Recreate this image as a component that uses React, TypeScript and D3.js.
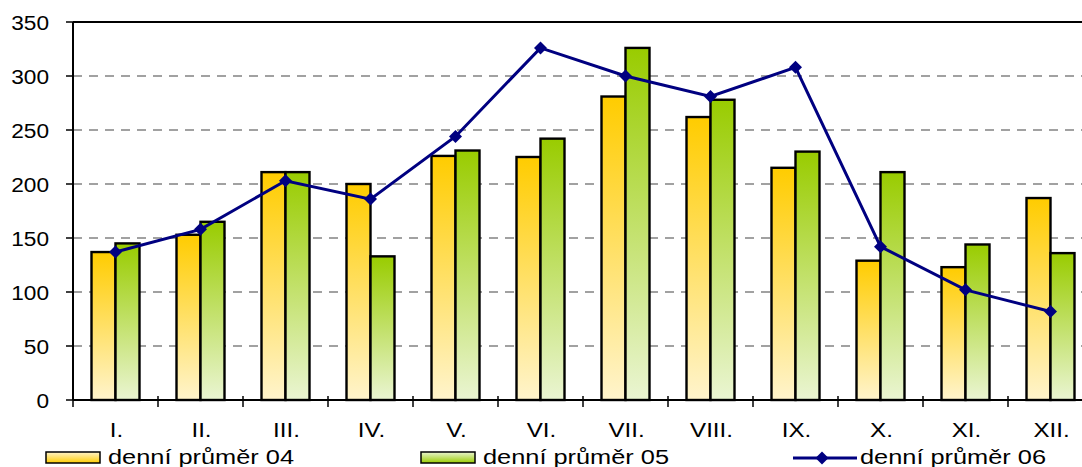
import React from "react";
import * as d3 from "d3";

const months = ["I.", "II.", "III.", "IV.", "V.", "VI.", "VII.", "VIII.", "IX.", "X.", "XI.", "XII."];
const avg04 = [137, 153, 211, 200, 226, 225, 281, 262, 215, 129, 123, 187];
const avg05 = [145, 165, 211, 133, 231, 242, 326, 278, 230, 211, 144, 136];
const avg06 = [137, 158, 203, 186, 244, 326, 300, 281, 308, 142, 102, 82];
const yTicks = [0, 50, 100, 150, 200, 250, 300, 350];
const seriesNames = ["denní průměr 04", "denní průměr 05", "denní průměr 06"];

const W = 1082, H = 467;
const left = 73, top = 22, bottom = 400, right = 1093;
const font = "'Liberation Sans', Arial, sans-serif";

export default function App() {
  const x = d3.scaleBand<string>().domain(months).range([left, right]).padding(0);
  const y = d3.scaleLinear().domain([0, 350]).range([bottom, top]);
  const bw = 24;
  const line = d3.line<number>()
    .x((_, i) => (x(months[i]) as number) + x.bandwidth() / 2)
    .y((v) => y(v));
  const diamond = (cx: number, cy: number, r: number) =>
    `M${cx},${cy - r}L${cx + r},${cy}L${cx},${cy + r}L${cx - r},${cy}Z`;

  return (
    <svg width={W} height={H} style={{ position: "absolute", left: 0, top: 0, display: "block" }}>
      <defs>
        <linearGradient id="gO" x1="0" y1="0" x2="0" y2="1">
          <stop offset="0" stopColor="#FFCC00" />
          <stop offset="1" stopColor="#FFF4CC" />
        </linearGradient>
        <linearGradient id="gG" x1="0" y1="0" x2="0" y2="1">
          <stop offset="0" stopColor="#99CC00" />
          <stop offset="1" stopColor="#EAF5D2" />
        </linearGradient>
        <linearGradient id="lO" x1="0" y1="0" x2="0" y2="1">
          <stop offset="0" stopColor="#FFF4CC" />
          <stop offset="1" stopColor="#FFCC00" />
        </linearGradient>
        <linearGradient id="lG" x1="0" y1="0" x2="0" y2="1">
          <stop offset="0" stopColor="#EAF5D2" />
          <stop offset="1" stopColor="#99CC00" />
        </linearGradient>
      </defs>
      <rect width={W} height={H} fill="#fff" />
      {yTicks.filter((t) => t > 0 && t < 350).map((t) => (
        <line key={t} x1={left} x2={right} y1={y(t)} y2={y(t)} stroke="#444" strokeWidth={1.2} strokeDasharray="9,7" />
      ))}
      <line x1={left} x2={right} y1={top} y2={top} stroke="#000" strokeWidth={2} />
      {months.map((m, i) => {
        const cx = (x(m) as number) + x.bandwidth() / 2;
        return (
          <g key={m}>
            <rect x={cx - bw} y={y(avg04[i])} width={bw} height={bottom - y(avg04[i])} fill="url(#gO)" stroke="#000" strokeWidth={2.4} />
            <rect x={cx} y={y(avg05[i])} width={bw} height={bottom - y(avg05[i])} fill="url(#gG)" stroke="#000" strokeWidth={2.4} />
          </g>
        );
      })}
      <line x1={left} x2={left} y1={top} y2={bottom} stroke="#000" strokeWidth={2} />
      <line x1={left} x2={right} y1={bottom} y2={bottom} stroke="#000" strokeWidth={2} />
      {yTicks.map((t) => (
        <g key={t}>
          <line x1={left - 7} x2={left} y1={y(t)} y2={y(t)} stroke="#000" strokeWidth={1.5} />
          <text transform={`translate(49,${y(t)}) scale(1.08,1)`} dy="0.36em" textAnchor="end" fontFamily={font} fontSize={21} fill="#000">{t}</text>
        </g>
      ))}
      {months.map((m, i) => (
        <line key={"t" + i} x1={x(m) as number} x2={x(m) as number} y1={bottom - 4} y2={bottom + 7} stroke="#000" strokeWidth={1.5} />
      ))}
      {months.map((m) => (
        <text key={"l" + m} transform={`translate(${(x(m) as number) + x.bandwidth() / 2 + 1},437) scale(1.15,1)`} textAnchor="middle" fontFamily={font} fontSize={21} fill="#000">{m}</text>
      ))}
      <path d={line(avg06) || ""} fill="none" stroke="#000080" strokeWidth={3} />
      {avg06.map((v, i) => (
        <path key={"d" + i} d={diamond((x(months[i]) as number) + x.bandwidth() / 2, y(v), 6.5)} fill="#000080" />
      ))}
      <rect x={46} y={452} width={54} height={11} fill="url(#lO)" stroke="#000" strokeWidth={1.5} />
      <text x={108} y={464} fontFamily={font} fontSize={20} textLength={186} lengthAdjust="spacingAndGlyphs">{seriesNames[0]}</text>
      <rect x={421} y={452} width={54} height={11} fill="url(#lG)" stroke="#000" strokeWidth={1.5} />
      <text x={483} y={464} fontFamily={font} fontSize={20} textLength={186} lengthAdjust="spacingAndGlyphs">{seriesNames[1]}</text>
      <line x1={793} x2={857} y1={458} y2={458} stroke="#000080" strokeWidth={3} />
      <path d={diamond(822, 458, 6.5)} fill="#000080" />
      <text x={860} y={464} fontFamily={font} fontSize={20} textLength={186} lengthAdjust="spacingAndGlyphs">{seriesNames[2]}</text>
    </svg>
  );
}
